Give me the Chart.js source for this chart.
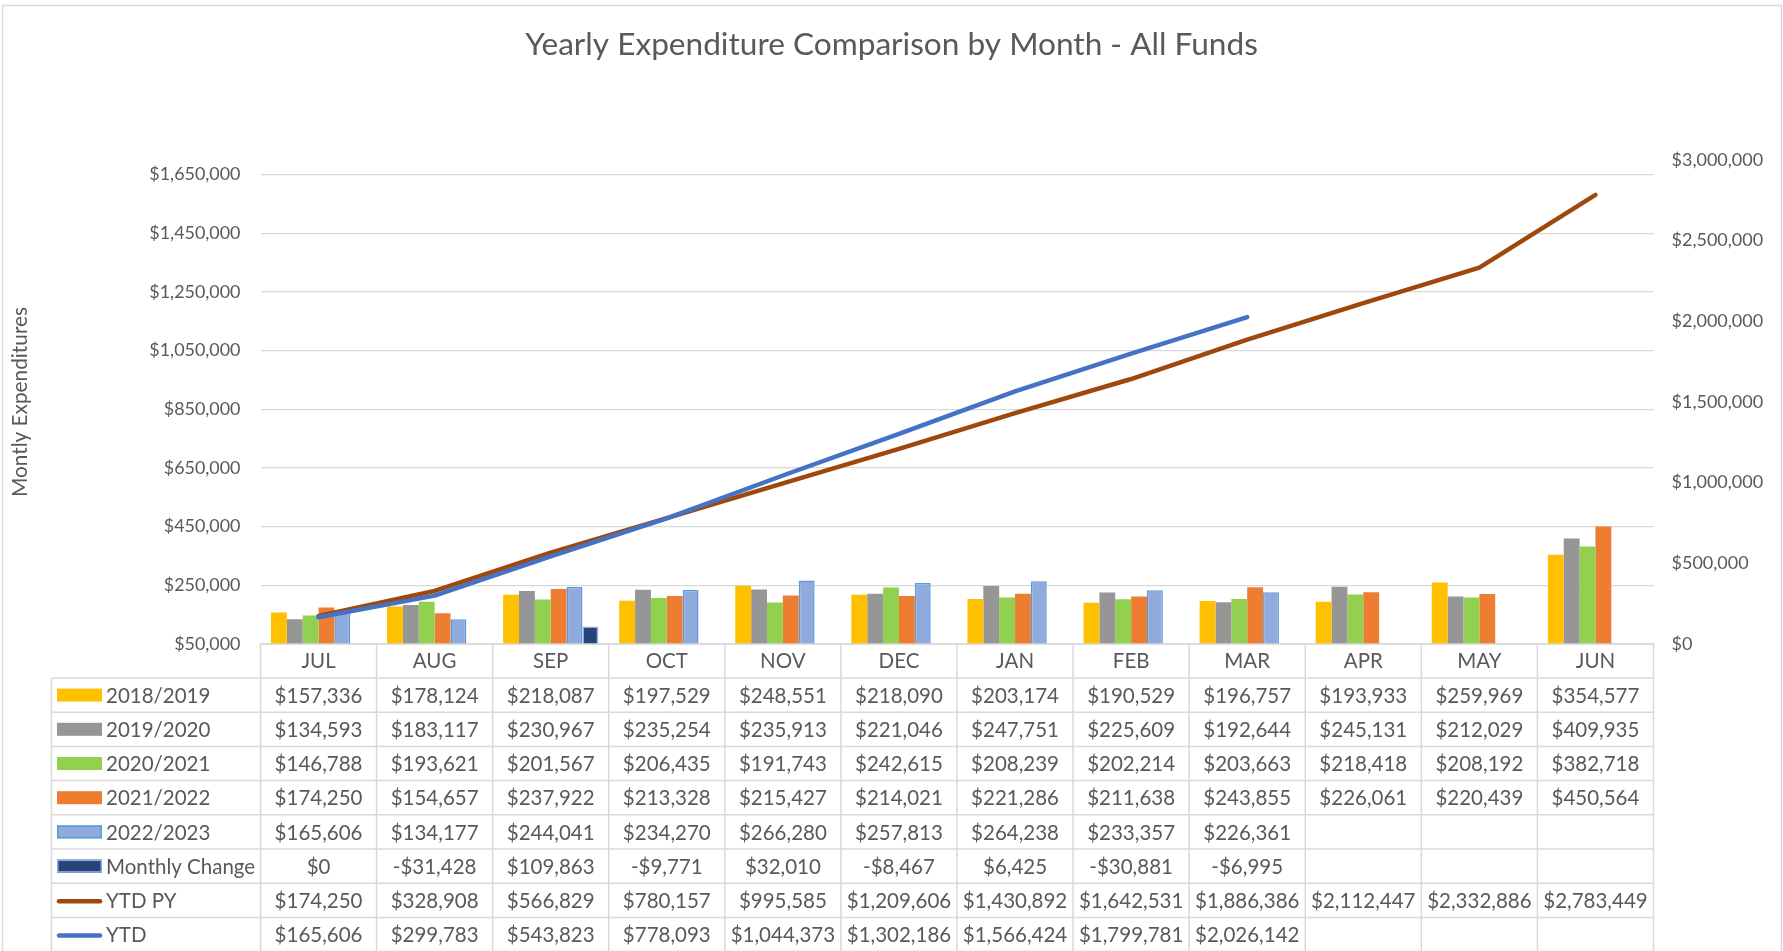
<!DOCTYPE html>
<html><head><meta charset="utf-8">
<script src="https://cdn.jsdelivr.net/npm/chart.js@4/dist/chart.umd.min.js"></script>
<style>html,body{margin:0;padding:0;background:#fff;overflow:hidden}#wrap{width:1783px;height:951px}</style>
</head><body><div id="wrap"><canvas id="c" width="1783" height="951"></canvas></div>
<script>
const months = ['JUL','AUG','SEP','OCT','NOV','DEC','JAN','FEB','MAR','APR','MAY','JUN'];
const fy1819 = [157336,178124,218087,197529,248551,218090,203174,190529,196757,193933,259969,354577];
const fy1920 = [134593,183117,230967,235254,235913,221046,247751,225609,192644,245131,212029,409935];
const fy2021 = [146788,193621,201567,206435,191743,242615,208239,202214,203663,218418,208192,382718];
const fy2122 = [174250,154657,237922,213328,215427,214021,221286,211638,243855,226061,220439,450564];
const fy2223 = [165606,134177,244041,234270,266280,257813,264238,233357,226361,null,null,null];
const monthlyChange = [0,-31428,109863,-9771,32010,-8467,6425,-30881,-6995,null,null,null];
const ytdPY = [174250,328908,566829,780157,995585,1209606,1430892,1642531,1886386,2112447,2332886,2783449];
const ytd = [165606,299783,543823,778093,1044373,1302186,1566424,1799781,2026142,null,null,null];
const leftTicks = [50000,250000,450000,650000,850000,1050000,1250000,1450000,1650000];
const rightTicks = [0,500000,1000000,1500000,2000000,2500000,3000000];

const TXT = '#595959';
const FONT = 'Lato, "Open Sans", sans-serif';
function fmt(v){ if(v===null||v===undefined) return ''; return (v<0?'-$':'$') + Math.abs(v).toLocaleString('en-US'); }

const rows = [
  {label:'2018/2019', data:fy1819, kind:'bar', fill:'#FFC000', stroke:null},
  {label:'2019/2020', data:fy1920, kind:'bar', fill:'#969696', stroke:null},
  {label:'2020/2021', data:fy2021, kind:'bar', fill:'#92D050', stroke:null},
  {label:'2021/2022', data:fy2122, kind:'bar', fill:'#ED7D31', stroke:null},
  {label:'2022/2023', data:fy2223, kind:'bar', fill:'#8FAADC', stroke:'#5B9BD5'},
  {label:'Monthly Change', data:monthlyChange, kind:'bar', fill:'#264478', stroke:'#8FAADC'},
  {label:'YTD PY', data:ytdPY, kind:'line', fill:'#9E480E'},
  {label:'YTD', data:ytd, kind:'line', fill:'#4472C4'}
];

const datasets = rows.map((r,i)=> r.kind==='bar' ? {
  type:'bar', label:r.label, data:r.data, yAxisID:'y', order:2,
  backgroundColor:r.fill, borderColor:r.stroke||r.fill, borderWidth:r.stroke?1.5:0,
  categoryPercentage:0.82, barPercentage:1.0
} : {
  type:'line', label:r.label, data:r.data, yAxisID:'y2', order:(r.label==='YTD'?0:1),
  borderColor:r.fill, backgroundColor:r.fill, borderWidth:4.5, pointRadius:0, tension:0,
  borderCapStyle:'round', borderJoinStyle:'round', spanGaps:false
});

const tablePlugin = {
  id:'dataTable',
  afterDraw(chart){
    const {ctx, scales:{x}} = chart;
    const n = months.length;
    const step = x.getPixelForValue(1) - x.getPixelForValue(0);
    const colL = i => x.getPixelForValue(Math.min(i,n-1)) + (i<n ? -step/2 : step/2);
    const hdrTop = x.top, bodyTop = x.bottom;
    const rowH = 34.2;
    const tableLeft = 51.5;
    const bottom = bodyTop + rowH*rows.length;
    ctx.save();
    ctx.strokeStyle = '#D9D9D9'; ctx.lineWidth = 1.5;
    ctx.strokeRect(2.5, 5.5, 1779, 1000);
    ctx.beginPath();
    for(let i=0;i<=n;i++){ const xx = colL(i); ctx.moveTo(xx, hdrTop); ctx.lineTo(xx, bottom); }
    ctx.moveTo(colL(0), hdrTop); ctx.lineTo(colL(n), hdrTop);
    ctx.moveTo(tableLeft, bodyTop); ctx.lineTo(tableLeft, bottom);
    for(let k=0;k<=rows.length;k++){ const yy = bodyTop + k*rowH; ctx.moveTo(tableLeft, yy); ctx.lineTo(colL(n), yy); }
    ctx.stroke();
    ctx.font = '20.5px ' + FONT;
    ctx.textBaseline = 'middle';
    rows.forEach((r,k)=>{
      const cy = bodyTop + k*rowH + rowH/2;
      if(r.kind==='bar'){
        ctx.fillStyle = r.fill; ctx.fillRect(57, cy-6.5, 45, 13);
        if(r.stroke){ ctx.strokeStyle = r.stroke; ctx.lineWidth = 1.5; ctx.strokeRect(57.75, cy-5.75, 43.5, 11.5); }
      } else {
        ctx.strokeStyle = r.fill; ctx.lineWidth = 4.5; ctx.lineCap = 'round';
        ctx.beginPath(); ctx.moveTo(59, cy+1); ctx.lineTo(100, cy+1); ctx.stroke();
      }
      ctx.fillStyle = TXT; ctx.textAlign = 'left';
      ctx.fillText(r.label, 106, cy+1);
      ctx.textAlign = 'center';
      r.data.forEach((v,i)=>{ ctx.fillText(fmt(v), x.getPixelForValue(i), cy+1); });
    });
    ctx.restore();
  }
};

Chart.defaults.font.family = FONT;
Chart.defaults.color = TXT;

new Chart(document.getElementById('c'), {
  type:'bar',
  data:{ labels: months, datasets },
  plugins:[tablePlugin],
  options:{
    responsive:false, animation:false, devicePixelRatio:1,
    layout:{ padding:{ left:0, right:0, top:0, bottom:273 } },
    plugins:{
      legend:{ display:false }, tooltip:{ enabled:false },
      title:{ display:true, text:'Yearly Expenditure Comparison by Month - All Funds',
        color:TXT, font:{ family:FONT, size:31.6, weight:'normal' }, padding:{ top:26, bottom:96.1 } }
    },
    scales:{
      x:{ type:'category', offset:true, position:'bottom',
        grid:{ display:false, drawTicks:false },
        border:{ display:true, color:'#D9D9D9', width:1.5 },
        ticks:{ color:TXT, font:{ family:FONT, size:20.5 }, padding:4.7, maxRotation:0, autoSkip:false },
        afterFit(s){ s.height = 34; } },
      y:{ type:'linear', position:'left', min:50000, max:1700000,
        afterBuildTicks(s){ s.ticks = leftTicks.map(v=>({value:v})); },
        grid:{ color:'#D9D9D9', lineWidth:1.3, drawTicks:false },
        border:{ display:false },
        ticks:{ color:TXT, font:{ family:FONT, size:17.9 }, padding:20, callback:v=>fmt(v) },
        title:{ display:true, text:'Montly Expenditures', color:TXT, font:{ family:FONT, size:20.8 }, padding:{ top:7.5, bottom:0 } },
        afterFit(s){ s.width = 260.5; } },
      y2:{ type:'linear', position:'right', min:0, max:3000000,
        afterBuildTicks(s){ s.ticks = rightTicks.map(v=>({value:v})); },
        grid:{ display:false, drawTicks:false },
        border:{ display:false },
        ticks:{ color:TXT, font:{ family:FONT, size:18 }, padding:18, callback:v=>fmt(v) },
        afterFit(s){ s.width = 129.5; } }
    }
  }
});
</script></body></html>
